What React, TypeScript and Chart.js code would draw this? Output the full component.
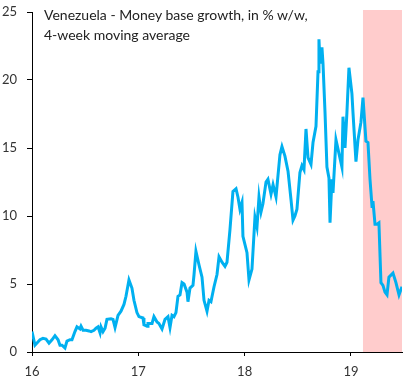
import React, { useEffect, useRef } from "react";
import { Chart, registerables } from "chart.js";

Chart.register(...registerables);

const titleLines = ["Venezuela - Money base growth, in % w/w,", "4-week moving average"];

// time in years (16 = 2016)
const years = [
  16.0, 16.028, 16.075, 16.103, 16.132, 16.16, 16.188, 16.216, 16.245, 16.263,
  16.282, 16.31, 16.329, 16.357, 16.376, 16.404, 16.423, 16.451, 16.461, 16.48,
  16.508, 16.536, 16.555, 16.583, 16.602, 16.621, 16.64, 16.649, 16.668, 16.687,
  16.705, 16.743, 16.762, 16.781, 16.809, 16.837, 16.865, 16.884, 16.912, 16.94,
  16.959, 16.987, 17.006, 17.044, 17.053, 17.082, 17.091, 17.129, 17.147, 17.176,
  17.194, 17.223, 17.251, 17.279, 17.298, 17.317, 17.335, 17.354, 17.373, 17.392,
  17.411, 17.43, 17.458, 17.467, 17.486, 17.514, 17.524, 17.542, 17.571, 17.599,
  17.618, 17.646, 17.665, 17.683, 17.712, 17.74, 17.759, 17.787, 17.815, 17.834,
  17.862, 17.89, 17.919, 17.937, 17.956, 17.975, 17.984, 18.022, 18.041, 18.069,
  18.097, 18.116, 18.135, 18.154, 18.172, 18.201, 18.219, 18.248, 18.267, 18.295,
  18.314, 18.332, 18.351, 18.379, 18.408, 18.436, 18.455, 18.473, 18.492, 18.52,
  18.539, 18.558, 18.577, 18.596, 18.624, 18.643, 18.671, 18.69, 18.699, 18.709,
  18.727, 18.737, 18.756, 18.774, 18.793, 18.803, 18.821, 18.831, 18.859, 18.887,
  18.915, 18.925, 18.944, 18.962, 18.981, 19.009, 19.019, 19.047, 19.066, 19.094,
  19.113, 19.141, 19.16, 19.179, 19.198, 19.207, 19.226, 19.245, 19.263, 19.282,
  19.301, 19.32, 19.339, 19.357, 19.395, 19.423, 19.452, 19.48,
];

// money base growth, % w/w
const growth = [
  1.5, 0.5, 0.9, 1.0, 0.95, 0.65, 0.9, 1.2, 0.9, 0.5,
  0.5, 0.3, 0.8, 0.9, 0.9, 1.5, 1.85, 1.7, 1.9, 1.6,
  1.6, 1.55, 1.5, 1.6, 1.75, 1.85, 1.4, 1.85, 1.5, 1.75,
  2.4, 2.45, 2.4, 1.8, 2.7, 3.0, 3.5, 4.1, 5.3, 4.7,
  3.8, 2.9, 2.6, 2.5, 2.0, 1.9, 2.1, 2.1, 2.6, 2.2,
  2.1, 1.7, 2.4, 2.6, 1.8, 2.7, 2.6, 2.9, 4.1, 4.2,
  5.1, 5.0, 4.4, 3.7, 4.7, 4.9, 5.7, 7.4, 6.4, 5.5,
  3.8, 3.0, 3.8, 3.7, 4.8, 5.7, 7.0, 6.6, 6.3, 6.6,
  9.0, 11.8, 12.0, 11.4, 10.5, 11.0, 8.5, 7.3, 5.3, 6.1,
  9.9, 9.2, 11.4, 10.3, 10.9, 12.5, 12.7, 11.6, 12.3, 11.4,
  13.0, 14.5, 15.1, 14.4, 13.3, 11.2, 9.7, 10.0, 10.5, 13.2,
  13.7, 13.4, 16.4, 14.3, 13.8, 15.4, 16.6, 20.6, 23.0, 21.2,
  22.4, 21.2, 17.6, 13.6, 12.8, 9.5, 12.7, 11.7, 15.6, 14.6,
  13.6, 17.3, 15.0, 17.6, 20.9, 19.0, 17.6, 14.0, 15.6, 16.9,
  18.7, 15.5, 15.4, 12.7, 10.7, 11.1, 9.4, 9.4, 9.5, 5.1,
  4.9, 4.4, 4.2, 5.5, 5.8, 5.1, 4.2, 4.8,
];

const xMin = 16;
const xMax = 19.48;
const yMin = 0;
const yMax = 25;
const shadeStart = 19.113;

const FONT = "Lato, 'Open Sans', sans-serif";

const shadePlugin = {
  id: "shade",
  beforeDraw(chart: any) {
    const { ctx, chartArea, scales } = chart;
    const x0 = scales.x.getPixelForValue(shadeStart);
    ctx.save();
    ctx.fillStyle = "#FFCCCC";
    ctx.fillRect(x0, chartArea.top - 2, chartArea.right - x0, chartArea.bottom - chartArea.top + 2);
    ctx.restore();
  },
};

export default function App() {
  const ref = useRef<HTMLCanvasElement | null>(null);

  useEffect(() => {
    document.body.style.margin = "0";
    const canvas = ref.current;
    if (!canvas) return;
    const chart = new Chart(canvas, {
      type: "line",
      data: {
        datasets: [
          {
            data: years.map((x, i) => ({ x, y: growth[i] })),
            borderColor: "#00B0F0",
            borderWidth: 3,
            pointRadius: 0,
            tension: 0,
            fill: false,
          },
        ],
      },
      options: {
        animation: false,
        responsive: false,
        maintainAspectRatio: false,
        devicePixelRatio: 1,
        layout: { padding: { top: 12, right: 2, left: 0, bottom: 0 } },
        plugins: {
          legend: { display: false },
          tooltip: { enabled: false },
          title: { display: false },
        },
        scales: {
          x: {
            type: "linear",
            min: xMin,
            max: xMax,
            afterFit(scale: any) {
              scale.height = 31;
              scale.paddingLeft = 0;
              scale.paddingRight = 0;
            },
            afterBuildTicks(scale: any) {
              scale.ticks = [16, 17, 18, 19].map((v) => ({ value: v }));
            },
            grid: {
              display: true,
              drawOnChartArea: false,
              drawTicks: true,
              tickLength: 4,
              color: "#000",
            },
            border: { display: true, color: "#000", width: 1 },
            ticks: {
              padding: 8,
              maxRotation: 0,
              autoSkip: false,
              color: "#333",
              font: { family: FONT, size: 13 },
              callback: (v: any) => String(v),
            },
          },
          y: {
            type: "linear",
            min: yMin,
            max: yMax,
            afterFit(scale: any) {
              scale.width = 32;
              scale.paddingTop = 0;
              scale.paddingBottom = 0;
            },
            grid: {
              display: true,
              drawOnChartArea: false,
              drawTicks: true,
              tickLength: 5,
              color: "#000",
            },
            border: { display: true, color: "#000", width: 1 },
            ticks: {
              stepSize: 5,
              padding: 10,
              color: "#333",
              font: { family: FONT, size: 13 },
            },
          },
        },
      },
      plugins: [shadePlugin],
    });
    return () => chart.destroy();
  }, []);

  return (
    <div style={{ position: "fixed", left: 0, top: 0, width: 404, height: 383 }}>
      <canvas ref={ref} width={404} height={383} style={{ width: 404, height: 383 }} />
      <div
        style={{
          position: "absolute",
          left: 44,
          top: 5,
          fontFamily: FONT,
          fontSize: 14,
          lineHeight: "20px",
          color: "#222",
          whiteSpace: "nowrap",
        }}
      >
        {titleLines.map((t) => (
          <div key={t}>{t}</div>
        ))}
      </div>
    </div>
  );
}
